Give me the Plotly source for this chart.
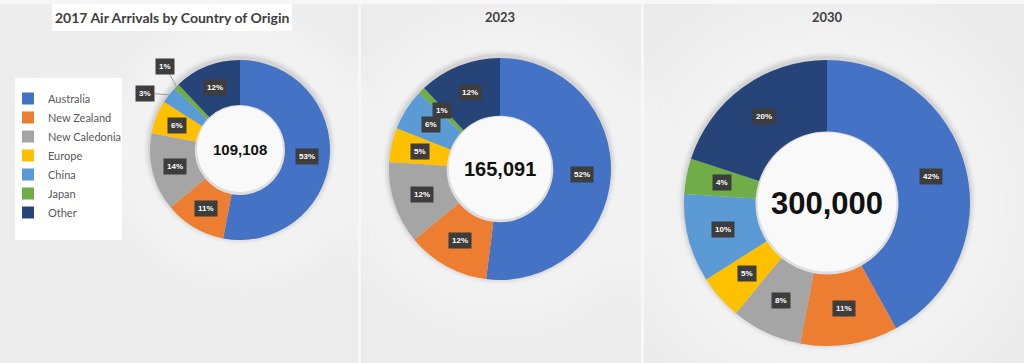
import math
import plotly.graph_objects as go

# ---------------- data ----------------
categories = ["Australia", "New Zealand", "New Caledonia", "Europe", "China", "Japan", "Other"]
share_2017 = [53, 11, 14, 6, 3, 1, 12]
share_2023 = [52, 12, 12, 5, 6, 1, 12]
share_2030 = [42, 11, 8, 5, 10, 4, 20]
totals = ["109,108", "165,091", "300,000"]
panel_titles = ["2017 Air Arrivals by Country of Origin", "2023", "2030"]
colors = ["#4472C4", "#ED7D31", "#A5A5A5", "#FFC000", "#5B9BD5", "#70AD47", "#264478"]

# ---------------- layout helpers ----------------
W, H = 1024, 363
def px(x):
    return x / W
def py(y):
    return 1 - y / H

donuts = [
    dict(cx=240, cy=150, r=90, hole=0.5, fs=15, vals=share_2017, outside={5: (165, 66), 4: (145, 93)}),
    dict(cx=500, cy=169, r=111, hole=0.48, fs=20, vals=share_2023, outside={}),
    dict(cx=827, cy=203, r=143, hole=0.5, fs=31, vals=share_2030, outside={}),
]

fig = go.Figure()
shapes = []
annotations = []

# background panels
shapes.append(dict(type="rect", xref="paper", yref="paper", x0=0, x1=1, y0=0, y1=1,
                   fillcolor="#f7f7f7", line_width=0, layer="below"))
for x0, x1, col in [(0, 358, "#ededed"), (361, 641, "#ececec"), (644, 1024, "#ebebeb")]:
    shapes.append(dict(type="rect", xref="paper", yref="paper", x0=px(x0), x1=px(x1),
                       y0=py(363), y1=py(4), fillcolor=col, line_width=0, layer="below"))

for i, d in enumerate(donuts):
    cx, cy, r = d["cx"], d["cy"], d["r"]
    # soft glow around donut
    for k in range(8):
        rr = r * (1.6 - k * 0.07)
        shapes.append(dict(type="circle", xref="paper", yref="paper",
                           x0=px(cx - rr), x1=px(cx + rr), y0=py(cy + rr), y1=py(cy - rr),
                           fillcolor="rgba(255,255,255,0.07)", line_width=0, layer="below"))
    # shadow
    for k, a in enumerate([0.025, 0.04, 0.06]):
        rr = r + 6 - 2 * k
        shapes.append(dict(type="circle", xref="paper", yref="paper",
                           x0=px(cx - rr), x1=px(cx + rr), y0=py(cy + rr - 2), y1=py(cy - rr - 2),
                           fillcolor=f"rgba(0,0,0,{a})", line_width=0, layer="below"))
    # hole fill
    hr = r * d["hole"] + 1
    shapes.append(dict(type="circle", xref="paper", yref="paper",
                       x0=px(cx - hr), x1=px(cx + hr), y0=py(cy + hr), y1=py(cy - hr),
                       fillcolor="#dedede", line_width=0, layer="below"))
    hr2 = hr - 3
    shapes.append(dict(type="circle", xref="paper", yref="paper",
                       x0=px(cx - hr2), x1=px(cx + hr2), y0=py(cy + hr2 - 1), y1=py(cy - hr2 - 1),
                       fillcolor="#f9f9f9", line_width=0, layer="below"))

    fig.add_trace(go.Pie(
        labels=categories, values=d["vals"], hole=d["hole"], sort=False,
        direction="clockwise", rotation=0, textinfo="none",
        marker=dict(colors=colors, line=dict(width=0)),
        domain=dict(x=[px(cx - r), px(cx + r)], y=[py(cy + r), py(cy - r)]),
        showlegend=(i == 0), hoverinfo="label+percent",
    ))

    # centre total
    annotations.append(dict(x=px(cx), y=py(cy), xref="paper", yref="paper", text=totals[i],
                            xanchor="center", yanchor="middle", showarrow=False,
                            font=dict(family="Liberation Sans", size=d["fs"],
                                      color="#111111", weight="bold")))

    # slice labels
    total = sum(d["vals"])
    cum = 0
    rm = r * (1 + d["hole"]) / 2
    for j, v in enumerate(d["vals"]):
        mid = (cum + v / 2) / total * 2 * math.pi
        cum += v
        lab = dict(text=f"{v}%", xref="paper", yref="paper", bgcolor="#3d3d3d",
                   borderpad=3, xanchor="center", yanchor="middle",
                   font=dict(family="Liberation Sans", size=8, color="white", weight="bold"))
        if j in d["outside"]:
            hx = cx + r * math.sin(mid)
            hy = cy - r * math.cos(mid)
            tx, ty = d["outside"][j]
            lab.update(x=px(hx), y=py(hy), ax=tx - hx, ay=ty - hy, showarrow=True,
                       arrowhead=0, arrowwidth=0.8, arrowcolor="#8a8a8a", standoff=0)
        else:
            lx = cx + rm * math.sin(mid)
            ly = cy - rm * math.cos(mid)
            lab.update(x=px(lx), y=py(ly), showarrow=False)
        annotations.append(lab)

# title box
shapes.append(dict(type="rect", xref="paper", yref="paper", x0=px(52), x1=px(292),
                   y0=py(31), y1=py(4), fillcolor="white", line_width=0, layer="below"))
# legend box
shapes.append(dict(type="rect", xref="paper", yref="paper", x0=px(15), x1=px(122),
                   y0=py(240), y1=py(78), fillcolor="white", line_width=0, layer="below"))

for t, x, fs in [(panel_titles[0], 172, 14), (panel_titles[1], 500, 13), (panel_titles[2], 827, 13)]:
    annotations.append(dict(x=px(x), y=py(17), xref="paper", yref="paper", text=t,
                            xanchor="center", yanchor="middle", showarrow=False,
                            font=dict(family="Lato", size=fs, color="#404040", weight="bold")))

fig.update_layout(
    width=W, height=H,
    margin=dict(l=0, r=0, t=0, b=0),
    paper_bgcolor="#f2f2f2",
    shapes=shapes,
    annotations=annotations,
    legend=dict(x=px(8), y=py(84), xanchor="left", yanchor="top",
                bgcolor="rgba(0,0,0,0)", font=dict(family="Lato", size=11, color="#595959"),
                itemclick=False),
)

fig.write_html("out.html", config={"displayModeBar": False},
               post_script="document.body.style.margin='0';")
